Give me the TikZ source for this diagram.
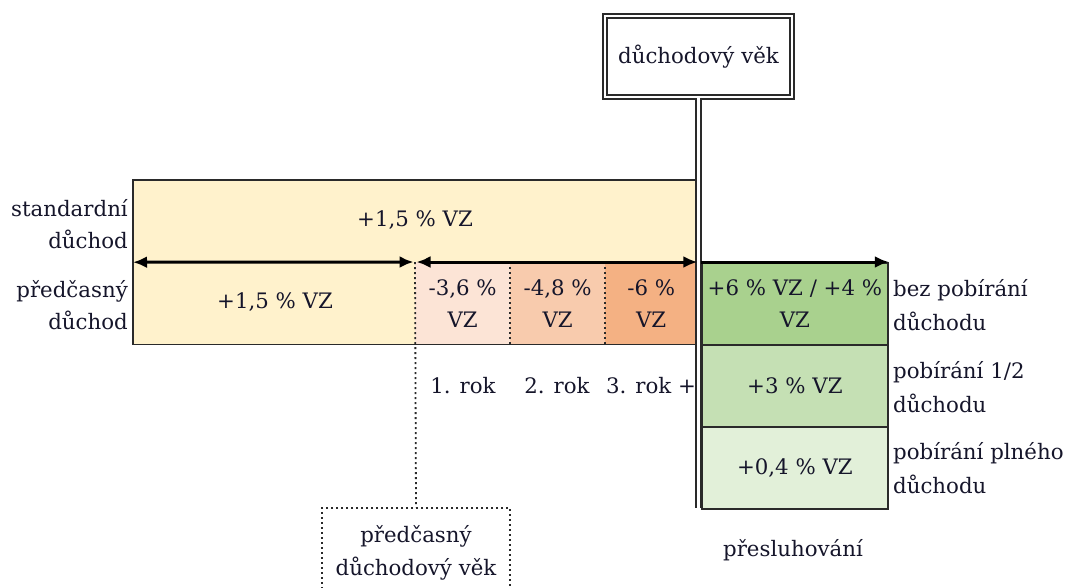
\documentclass[tikz,border=0pt]{standalone}
\usepackage{fontspec}
\setmainfont{DejaVu Serif}
\usetikzlibrary{arrows.meta}
\definecolor{yel}{HTML}{FFF2CC}
\definecolor{ra}{HTML}{FCE4D6}
\definecolor{rb}{HTML}{F8CBAD}
\definecolor{rc}{HTML}{F4B183}
\definecolor{ga}{HTML}{A9D18E}
\definecolor{gb}{HTML}{C5E0B4}
\definecolor{gc}{HTML}{E2F0D9}
\definecolor{bord}{HTML}{2A2A2A}
\definecolor{txt}{HTML}{15152A}
\begin{document}
\begin{tikzpicture}[x=1pt,y=-1pt,
  every node/.style={font=\fontsize{21.3}{32}\selectfont, text=txt},
  fillcell/.style={inner sep=0pt, anchor=north west, align=center, minimum width=#1, minimum height=82},
  greencell/.style={draw=bord, line width=1.8pt, inner sep=0pt, anchor=north west, align=center, minimum width=186, minimum height=82},
  lbl/.style={inner sep=0pt, align=center},
  rlbl/.style={inner sep=0pt, align=left, anchor=west, font=\fontsize{21.3}{34}\selectfont},
  llbl/.style={inner sep=0pt, align=right, anchor=east},
  frame/.style={draw=bord, line width=1.8pt},
  dotline/.style={draw=bord, line width=1.8pt, dash pattern=on 2.2pt off 2.8pt},
  dblline/.style={draw=bord, line width=1.7pt, double=white, double distance=3.2pt},
  timeline/.style={draw=black, line width=3pt},
  oneway/.style={arrows={-Latex[length=14pt,width=12pt]}},
  twoway/.style={arrows={Latex[length=14pt,width=12pt]-Latex[length=14pt,width=12pt]}},
]
\useasboundingbox (0,0) rectangle (1070,587);
\clip (0,0) rectangle (1070,587);

% yellow standard box
\node[fillcell=564, fill=yel, minimum height=164] (std) at (133,180) {};
% red early-retirement cells
\node[fillcell=95, fill=ra] (ra) at (415,262) {-3,6 \%\\VZ};
\node[fillcell=95, fill=rb] (rb) at (510,262) {-4,8 \%\\VZ};
\node[fillcell=92, fill=rc] (rc) at (605,262) {-6 \%\\VZ};
\draw[frame] (std.north west) rectangle (std.south east);
\draw[dotline] (rb.north west) -- (rb.south west);
\draw[dotline] (rc.north west) -- (rc.south west);

% values in yellow box
\node[lbl] (stdval) at (415,220) {+1,5 \% VZ};
\node[lbl] (preval) at (275,302) {+1,5 \% VZ};

% green cells
\node[greencell, fill=ga] (ga) at (701,262) {+6 \% VZ / +4 \%\\VZ};
\node[greencell, fill=gb] (gb) at (701,344) {+3 \% VZ};
\node[greencell, fill=gc] (gc) at (701,426) {+0,4 \% VZ};

% top box and vertical double line
\node[draw=bord, line width=1.7pt, double=white, double distance=2.6pt,
      minimum width=187, minimum height=81, inner sep=0pt] (dv) at (698.5,56.5) {důchodový věk};
\coordinate (vend) at (698.5,508);
\draw[dblline] (dv.south) -- (vend);

% predcasny duchodovy vek box
\node[draw=bord, line width=1.8pt, dash pattern=on 2.2pt off 2.8pt, anchor=north,
      minimum width=188, minimum height=90, inner sep=0pt, align=center,
      font=\fontsize{21.3}{33}\selectfont] (pdv) at (416,507) {předčasný\\důchodový věk};
\draw[dotline] (ra.north west) -- (pdv.north);

% timeline arrows
\draw[timeline, twoway, shorten >=1.5pt] (std.west) -- (ra.north west);
\draw[timeline, twoway, shorten <=1.5pt] (ra.north west) -- (rc.north east);
\draw[timeline, oneway] (ga.north west) -- (ga.north east);

% left labels
\node[llbl] (lstd) at (128,224) {standardní\\důchod};
\node[llbl] (lpre) at (128,305) {předčasný\\důchod};

% right labels
\node[rlbl] (rbez) at (893,305) {bez pobírání\\důchodu};
\node[rlbl] (rpol) at (893,387) {pobírání 1/2\\důchodu};
\node[rlbl] (rpln) at (893,468) {pobírání plného\\důchodu};

% year labels
\node[lbl] (y1) at (463,386) {1. rok};
\node[lbl] (y2) at (557,386) {2. rok};
\node[lbl] (y3) at (651,386) {3. rok +};

\node[lbl] (presl) at (793,550) {přesluhování};
\end{tikzpicture}
\end{document}
